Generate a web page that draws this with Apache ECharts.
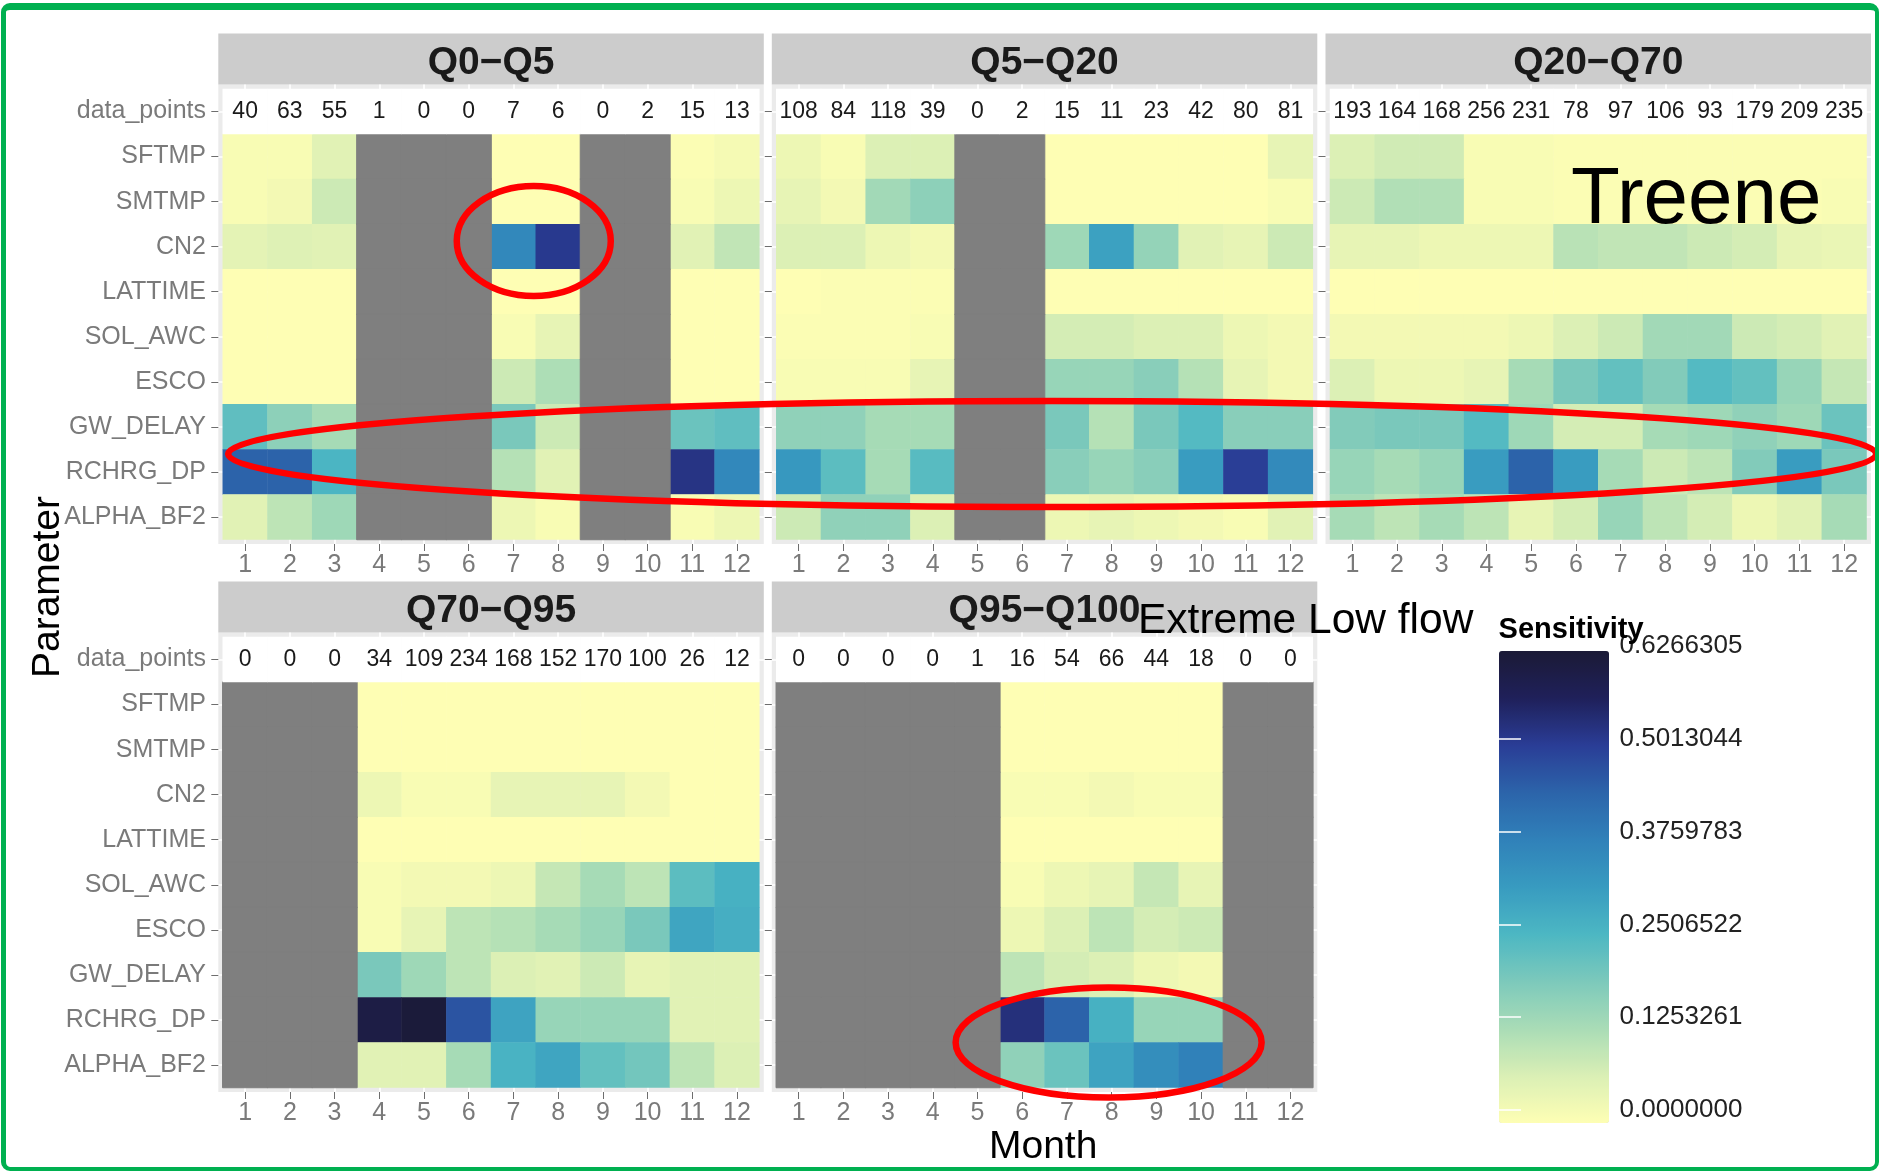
<!DOCTYPE html>
<html>
<head>
<meta charset="utf-8">
<script src="https://cdn.jsdelivr.net/npm/echarts@6/dist/echarts.min.js"></script>
<style>
html,body{margin:0;padding:0;background:#fff;}
#wrap{position:relative;width:1879px;height:1171px;overflow:hidden;background:#fff;}
#chart{position:absolute;left:0;top:0;width:1879px;height:1171px;}
#frame{position:absolute;left:1px;top:3px;width:1878px;height:1168px;box-sizing:border-box;border-style:solid;border-color:#00B050;border-width:7px 4px 4px 5px;border-radius:9px;pointer-events:none;}
</style>
</head>
<body>
<div id="wrap"><div id="chart"></div><div id="frame"></div></div>
<script>
// ---------------- DATA ----------------
const months = ['1','2','3','4','5','6','7','8','9','10','11','12'];
const parameters = ['SFTMP','SMTMP','CN2','LATTIME','SOL_AWC','ESCO','GW_DELAY','RCHRG_DP','ALPHA_BF2'];
const rowLabels = ['data_points'].concat(parameters);
const flowClasses = ['Q0\u2212Q5','Q5\u2212Q20','Q20\u2212Q70','Q70\u2212Q95','Q95\u2212Q100'];

const dataPoints_Q0_Q5   = [40,63,55,1,0,0,7,6,0,2,15,13];
const dataPoints_Q5_Q20  = [108,84,118,39,0,2,15,11,23,42,80,81];
const dataPoints_Q20_Q70 = [193,164,168,256,231,78,97,106,93,179,209,235];
const dataPoints_Q70_Q95 = [0,0,0,34,109,234,168,152,170,100,26,12];
const dataPoints_Q95_Q100= [0,0,0,0,1,16,54,66,44,18,0,0];

const NA = null;
// rows follow `parameters`, columns follow `months`
const sens_Q0_Q5 = [
  [0.01,0.01,0.05,NA,NA,NA,0.00,0.00,NA,NA,0.005,0.015],
  [0.01,0.02,0.08,NA,NA,NA,0.00,0.00,NA,NA,0.01,0.03],
  [0.045,0.055,0.05,NA,NA,NA,0.36,0.51,NA,NA,0.05,0.095],
  [0.00,0.00,0.00,NA,NA,NA,0.00,0.00,NA,NA,0.00,0.00],
  [0.00,0.00,0.00,NA,NA,NA,0.01,0.04,NA,NA,0.00,0.00],
  [0.00,0.00,0.00,NA,NA,NA,0.08,0.12,NA,NA,0.00,0.00],
  [0.225,0.165,0.13,NA,NA,NA,0.19,0.08,NA,NA,0.21,0.225],
  [0.44,0.44,0.255,NA,NA,NA,0.11,0.05,NA,NA,0.52,0.36],
  [0.05,0.10,0.14,NA,NA,NA,0.03,0.01,NA,NA,0.01,0.03]
];
const sens_Q5_Q20 = [
  [0.03,0.01,0.06,0.06,NA,NA,0.00,0.00,0.00,0.00,0.00,0.04],
  [0.04,0.02,0.135,0.165,NA,NA,0.00,0.00,0.00,0.00,0.00,0.01],
  [0.06,0.06,0.03,0.02,NA,NA,0.14,0.30,0.155,0.05,0.04,0.08],
  [0.00,0.005,0.005,0.005,NA,NA,0.00,0.00,0.00,0.00,0.00,0.00],
  [0.005,0.005,0.005,0.01,NA,NA,0.07,0.07,0.06,0.06,0.03,0.02],
  [0.01,0.01,0.01,0.04,NA,NA,0.15,0.15,0.17,0.11,0.04,0.02],
  [0.16,0.16,0.13,0.13,NA,NA,0.19,0.11,0.19,0.24,0.17,0.17],
  [0.32,0.23,0.13,0.235,NA,NA,0.17,0.15,0.17,0.31,0.50,0.355],
  [0.08,0.16,0.16,0.06,NA,NA,0.03,0.04,0.03,0.02,0.01,0.05]
];
const sens_Q20_Q70 = [
  [0.06,0.075,0.075,0.01,0.01,0.005,0.005,0.005,0.005,0.005,0.005,0.005],
  [0.08,0.115,0.115,0.01,0.01,0.005,0.005,0.005,0.005,0.005,0.005,0.01],
  [0.04,0.04,0.03,0.03,0.03,0.105,0.095,0.095,0.08,0.07,0.04,0.035],
  [0.00,0.00,0.00,0.00,0.00,0.00,0.00,0.00,0.00,0.00,0.00,0.00],
  [0.02,0.02,0.02,0.02,0.03,0.06,0.08,0.135,0.135,0.08,0.07,0.05],
  [0.06,0.03,0.03,0.04,0.13,0.19,0.22,0.18,0.24,0.22,0.15,0.09],
  [0.18,0.19,0.19,0.24,0.14,0.07,0.07,0.13,0.14,0.16,0.14,0.21],
  [0.15,0.13,0.15,0.31,0.44,0.31,0.13,0.08,0.10,0.18,0.31,0.19],
  [0.13,0.10,0.13,0.10,0.04,0.07,0.15,0.10,0.07,0.03,0.05,0.13]
];
const sens_Q70_Q95 = [
  [NA,NA,NA,0.00,0.00,0.00,0.00,0.00,0.00,0.00,0.00,0.00],
  [NA,NA,NA,0.00,0.00,0.00,0.00,0.00,0.00,0.00,0.00,0.00],
  [NA,NA,NA,0.03,0.01,0.01,0.04,0.04,0.04,0.02,0.00,0.00],
  [NA,NA,NA,0.00,0.00,0.00,0.00,0.00,0.00,0.00,0.00,0.00],
  [NA,NA,NA,0.01,0.02,0.02,0.03,0.09,0.13,0.10,0.23,0.265],
  [NA,NA,NA,0.01,0.04,0.10,0.11,0.13,0.15,0.19,0.29,0.27],
  [NA,NA,NA,0.19,0.14,0.10,0.06,0.05,0.08,0.04,0.05,0.05],
  [NA,NA,NA,0.60,0.62,0.465,0.295,0.15,0.15,0.15,0.05,0.05],
  [NA,NA,NA,0.05,0.05,0.13,0.26,0.29,0.22,0.20,0.10,0.06]
];
const sens_Q95_Q100 = [
  [NA,NA,NA,NA,NA,0.00,0.00,0.00,0.00,0.00,NA,NA],
  [NA,NA,NA,NA,NA,0.00,0.00,0.00,0.00,0.00,NA,NA],
  [NA,NA,NA,NA,NA,0.01,0.01,0.02,0.01,0.01,NA,NA],
  [NA,NA,NA,NA,NA,0.00,0.00,0.00,0.00,0.00,NA,NA],
  [NA,NA,NA,NA,NA,0.01,0.03,0.04,0.09,0.04,NA,NA],
  [NA,NA,NA,NA,NA,0.03,0.06,0.10,0.07,0.08,NA,NA],
  [NA,NA,NA,NA,NA,0.10,0.07,0.06,0.03,0.02,NA,NA],
  [NA,NA,NA,NA,NA,0.53,0.44,0.265,0.15,0.15,NA,NA],
  [NA,NA,NA,NA,NA,0.16,0.21,0.295,0.345,0.375,NA,NA]
];

const legendMin = 0;
const legendMax = 0.6266305;
const legendStep = 0.1253261;
const legendColors = ['#FEFEB4','#DAEFB5','#A9DCB6','#7CC9BB','#4CB7C3','#389BC0','#3081B9','#2C64AA','#2A3D96','#1F205A','#1B1A36'];

const panels = [
  {name: flowClasses[0], counts: dataPoints_Q0_Q5,   sens: sens_Q0_Q5},
  {name: flowClasses[1], counts: dataPoints_Q5_Q20,  sens: sens_Q5_Q20},
  {name: flowClasses[2], counts: dataPoints_Q20_Q70, sens: sens_Q20_Q70},
  {name: flowClasses[3], counts: dataPoints_Q70_Q95, sens: sens_Q70_Q95},
  {name: flowClasses[4], counts: dataPoints_Q95_Q100,sens: sens_Q95_Q100}
];

// ---------------- LAYOUT ----------------
const FONT = '"Liberation Sans", Arial, Helvetica, sans-serif';
const L = {
  panelX: [218.3, 771.8, 1325.5, 218.3, 771.8],
  stripY: [33.5, 33.5, 33.5, 581.5, 581.5],
  panelW: 545.5, stripH: 51, panelH: 459.5,
  showYLabels: [true, false, false, true, false]
};
const mx = L.panelW * 0.1 / 12.2;
const my = L.panelH * 0.1 / 10.2;
const monthPos = months.map((m, k) => k + 1);
const rowPos = rowLabels.map((r, k) => k + 1);

const grid = [], xAxis = [], yAxis = [], series = [];
const valueIdx = [], naIdx = [], dpIdx = [];
const innerAxes = [];
const hidden = {show:false};
const whiteGrid = {show: true, lineStyle: {color: '#FFFFFF', width: 1.6}};
const NA_COLOR = '#7F7F7F';

panels.forEach((p, i) => {
  const px = L.panelX[i], sy = L.stripY[i], py = sy + L.stripH;
  // outer panel background with the (mostly hidden) white major grid lines
  const gOuter = grid.length;
  grid.push({left: px, top: py, width: L.panelW, height: L.panelH, show: true, backgroundColor: '#EBEBEB', borderWidth: 0, containLabel: false, outerBoundsMode: 'none'});
  xAxis.push({gridIndex: gOuter, type: 'value', show: true, min: 0.4, max: months.length + 0.6,
    axisLine: hidden, axisLabel: hidden, axisTick: {show: false, customValues: monthPos}, splitLine: whiteGrid});
  yAxis.push({gridIndex: gOuter, type: 'value', show: true, min: 0.4, max: rowLabels.length + 0.6,
    axisLine: hidden, axisLabel: hidden, axisTick: {show: false, customValues: rowPos}, splitLine: whiteGrid});
  // strip
  const gStrip = grid.length;
  grid.push({left: px, top: sy, width: L.panelW, height: L.stripH, show: true, backgroundColor: '#CCCCCC', borderWidth: 0, containLabel: false, outerBoundsMode: 'none'});
  xAxis.push({gridIndex: gStrip, type: 'value', show: true, position: 'bottom',
    axisLine: hidden, axisTick: hidden, axisLabel: hidden, splitLine: hidden,
    name: p.name, nameLocation: 'middle', nameGap: -L.stripH / 2 + 4,
    nameTextStyle: {fontSize: 39, fontWeight: 'bold', color: '#1A1A1A', fontFamily: FONT, verticalAlign: 'middle', align: 'center'}});
  yAxis.push({gridIndex: gStrip, type: 'value', show: false});
  // inner tiles
  const gInner = grid.length;
  grid.push({left: px + mx, top: py + my, width: L.panelW - 2 * mx, height: L.panelH - 2 * my, show: false, containLabel: false, outerBoundsMode: 'none'});
  const xi = xAxis.length;
  xAxis.push({gridIndex: gInner, type: 'category', data: months, position: 'bottom', offset: my,
    axisLine: hidden, splitLine: hidden, splitArea: hidden,
    axisTick: {show: true, alignWithLabel: true, length: 7, lineStyle: {color: '#6E6E6E', width: 1}},
    axisLabel: {show: true, interval: 0, margin: 9, fontSize: 25, color: '#7A7A7A', fontFamily: FONT}});
  const yi = yAxis.length;
  yAxis.push({gridIndex: gInner, type: 'category', data: rowLabels, inverse: true, position: 'left', offset: mx,
    axisLine: hidden, splitLine: hidden, splitArea: hidden,
    axisTick: {show: true, alignWithLabel: true, length: 7, lineStyle: {color: '#6E6E6E', width: 1}},
    axisLabel: {show: L.showYLabels[i], interval: 0, margin: 12.3, fontSize: 25, color: '#7A7A7A', fontFamily: FONT}});
  innerAxes.push({x: xi, y: yi});

  const valData = [], naData = [], dpData = [];
  p.counts.forEach((c, m) => dpData.push([m, 0, c]));
  p.sens.forEach((row, r) => row.forEach((v, m) => {
    if (v === null) naData.push([m, r + 1, 0]);
    else valData.push([m, r + 1, v]);
  }));
  const base = {type: 'heatmap', xAxisIndex: xi, yAxisIndex: yi, silent: true, emphasis: {disabled: true}, itemStyle: {borderWidth: 0}, animation: false};
  valueIdx.push(series.length);
  series.push(Object.assign({}, base, {name: p.name + ' sensitivity', data: valData}));
  naIdx.push(series.length);
  series.push(Object.assign({}, base, {name: p.name + ' NA', data: naData,
    itemStyle: {borderWidth: 1, borderColor: NA_COLOR}}));
  dpIdx.push(series.length);
  series.push(Object.assign({}, base, {name: p.name + ' data_points', data: dpData,
    label: {show: true, formatter: (q) => String(q.value[2]), fontSize: 23, color: '#1A1A1A', fontFamily: FONT}}));
});

// frame grid carrying the y-axis title
const gFrame = grid.length;
grid.push({left: 218.3, top: 33.5, width: 1652.7, height: 1107, show: false, containLabel: false, outerBoundsMode: 'none'});
xAxis.push({gridIndex: gFrame, type: 'value', show: false});
yAxis.push({gridIndex: gFrame, type: 'value', show: true, position: 'left',
  axisLine: hidden, axisTick: hidden, axisLabel: hidden, splitLine: hidden,
  name: 'Parameter', nameLocation: 'middle', nameGap: 170, nameRotate: 90,
  nameTextStyle: {fontSize: 39, color: '#000', fontFamily: FONT, verticalAlign: 'middle', align: 'center'}});

// legend tick axis grid
const gLeg = grid.length;
grid.push({left: 1499, top: 646, width: 110, height: 464, show: false, containLabel: false, outerBoundsMode: 'none'});
xAxis.push({gridIndex: gLeg, type: 'value', show: false});
const legTick = {show: true, inside: true, length: 22, lineStyle: {color: '#FFFFFF', width: 1.5}};
yAxis.push({gridIndex: gLeg, type: 'value', position: 'right', min: legendMin, max: legendMax, interval: legendStep, z: 20,
  axisLine: hidden, splitLine: hidden, axisTick: legTick,
  axisLabel: {show: true, margin: 10.5, fontSize: 26, color: '#222', fontFamily: FONT, showMinLabel: true, showMaxLabel: true,
    formatter: (v) => v.toFixed(7)}});
yAxis.push({gridIndex: gLeg, type: 'value', position: 'left', min: legendMin, max: legendMax, interval: legendStep, z: 20,
  axisLine: hidden, splitLine: hidden, axisTick: legTick, axisLabel: hidden});

const titleStyle = (size, weight) => ({fontSize: size, fontWeight: weight, color: '#000', fontFamily: FONT});
const option = {
  animation: false,
  backgroundColor: '#FFFFFF',
  textStyle: {fontFamily: FONT},
  title: [
    {text: 'Month', left: 989, top: 1128, padding: 0, textStyle: titleStyle(39, 'normal'), z: 30},
    {text: 'Treene', left: 1571, top: 161, padding: 0, textStyle: titleStyle(80, 'normal'), z: 30},
    {text: 'Extreme Low flow', left: 1138, top: 600, padding: 0, textStyle: titleStyle(42.5, 'normal'), z: 30},
    {text: 'Sensitivity', left: 1498.6, top: 615.5, padding: 0, textStyle: titleStyle(29, 'bold'), z: 30}
  ],
  grid, xAxis, yAxis,
  visualMap: [
    {type: 'continuous', min: legendMin, max: legendMax, seriesIndex: valueIdx, dimension: 2,
     calculable: false, hoverLink: false, orient: 'vertical', left: 1499, top: 651, itemWidth: 110, itemHeight: 472,
     padding: 0, text: null, inRange: {color: legendColors}},
    {type: 'continuous', show: false, min: 0, max: 1, seriesIndex: naIdx, dimension: 2,
     inRange: {color: [NA_COLOR, NA_COLOR]}},
    {type: 'continuous', show: false, min: 0, max: 300, seriesIndex: dpIdx, dimension: 2,
     inRange: {color: ['#FFFFFF', '#FFFFFF']}}
  ],
  series
};

const chart = echarts.init(document.getElementById('chart'), null, {renderer: 'canvas'});
chart.setOption(option);

// hand-drawn red annotations, anchored to the data cells
function cell(panel, m, r) {
  return chart.convertToPixel({xAxisIndex: innerAxes[panel].x, yAxisIndex: innerAxes[panel].y}, [m, r]);
}
const rowOf = (name) => rowLabels.indexOf(name);
const a1 = cell(0, 6, rowOf('CN2')), a2 = cell(0, 7, rowOf('CN2'));
const b1 = cell(0, 0, rowOf('GW_DELAY')), b2 = cell(2, 11, rowOf('RCHRG_DP'));
const b3 = cell(0, 0, rowOf('RCHRG_DP'));
const c1 = cell(4, 7, rowOf('RCHRG_DP')), c2 = cell(4, 7, rowOf('ALPHA_BF2'));
const leftTip = b1[0] - 17, rightTip = b2[0] + 32;
const redStyle = {stroke: '#FF0000', lineWidth: 6.5, fill: null};
chart.setOption({
  graphic: [
    {type: 'ellipse', z: 100, silent: true, shape: {cx: (a1[0] + a2[0]) / 2 - 2, cy: a1[1] - 5.7, rx: 77, ry: 55}, style: redStyle},
    {type: 'ellipse', z: 100, silent: true, shape: {cx: (leftTip + rightTip) / 2, cy: (b1[1] + b3[1]) / 2 + 4.6, rx: (rightTip - leftTip) / 2, ry: 53}, style: redStyle},
    {type: 'ellipse', z: 100, silent: true, shape: {cx: c1[0] - 3, cy: (c1[1] + c2[1]) / 2, rx: 153, ry: 55}, style: redStyle}
  ]
});
</script>
</body>
</html>
